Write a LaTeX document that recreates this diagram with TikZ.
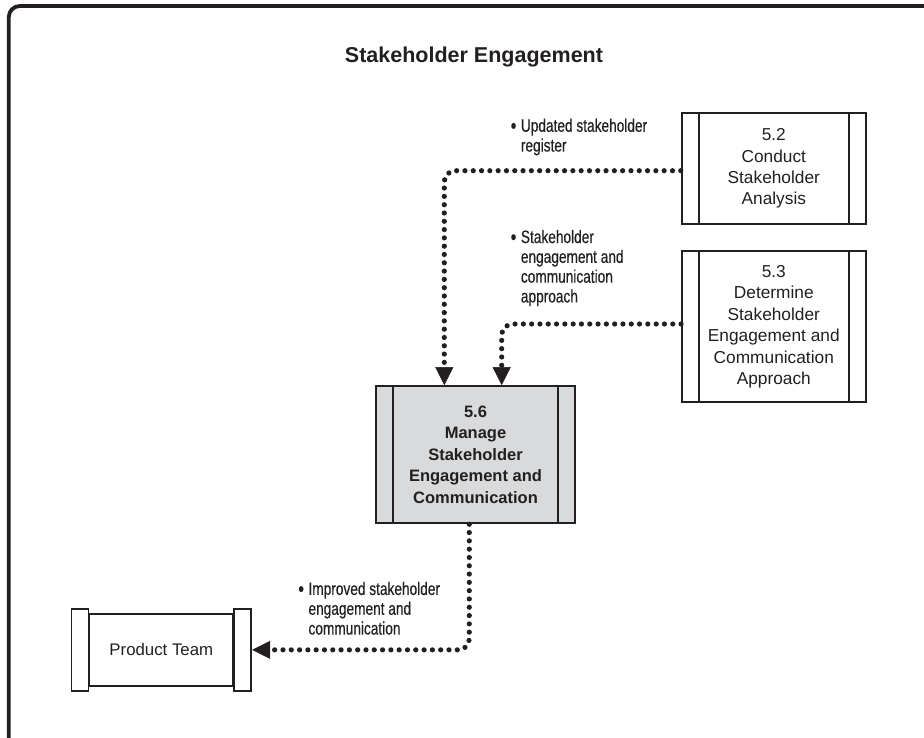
\documentclass[tikz,border=0pt]{standalone}
\usepackage{fontspec}
\setmainfont{Liberation Sans}
\newfontfamily\lblfont[FakeStretch=0.76,FakeBold=0.4]{Liberation Sans}
\usetikzlibrary{arrows.meta}
\definecolor{ink}{HTML}{231F20}
\definecolor{boxgray}{HTML}{D9DADB}
\tikzset{
  procbox/.style={draw=ink, line width=1.8pt, inner sep=0pt, align=center,
    text=ink, font=\fontsize{17.3}{21.4}\selectfont,
    path picture={
      \draw[ink, line width=1.8pt]
        ([xshift=17pt]path picture bounding box.north west) --
        ([xshift=17pt]path picture bounding box.south west);
      \draw[ink, line width=1.8pt]
        ([xshift=-17pt]path picture bounding box.north east) --
        ([xshift=-17pt]path picture bounding box.south east);
    }},
  flow/.style={ink, line width=5.2pt, line cap=round, dash pattern=on 0pt off 8.3pt,
    rounded corners=11pt,
    -{Triangle[width=18pt,length=18pt,line width=0.5pt]}},
  lbl/.style={anchor=west, align=left, inner sep=0pt, text=ink,
    font=\lblfont\fontsize{18}{19.8}\selectfont},
}
\newcommand{\bul}{\makebox[0pt][r]{\raisebox{-1.3pt}{\scalebox{1.2}{\textbullet}}\hspace{4.5pt}}}
\begin{document}
\begin{tikzpicture}[x=1pt,y=-1pt]
\useasboundingbox (0,0) rectangle (924,737);
% frame
\draw[ink, line width=3.8pt, rounded corners=11pt] (8.8,745) -- (8.8,6) -- (935,6);
% title
\node[text=ink, font=\bfseries\fontsize{21.5}{24}\selectfont] (title) at (474,56.7) {Stakeholder Engagement};
% process boxes
\node[procbox, minimum width=184.3pt, minimum height=111.6pt] (b52) at (773.8,168.5)
  {5.2\\Conduct\\Stakeholder\\Analysis};
\node[procbox, minimum width=183.7pt, minimum height=151.3pt] (b53) at (773.8,326.7)
  {5.3\\Determine\\Stakeholder\\Engagement and\\Communication\\Approach};
\node[procbox, fill=boxgray, minimum width=199pt, minimum height=137.3pt,
  font=\bfseries\fontsize{16.5}{21.4}\selectfont] (b56) at (475.5,454.7)
  {5.6\\Manage\\Stakeholder\\Engagement and\\Communication};
% product team
\node[draw=ink, line width=1.8pt, minimum width=144pt, minimum height=71.7pt, inner sep=0pt,
  text=ink, font=\fontsize{16.8}{20}\selectfont] (pt) at (161.3,649.85) {Product Team};
\draw[ink, line width=1.8pt] ([yshift=4pt]pt.north west) rectangle ([xshift=-17pt,yshift=-4pt]pt.south west);
\draw[ink, line width=1.8pt] ([yshift=4pt]pt.north east) rectangle ([xshift=17pt,yshift=-4pt]pt.south east);
\coordinate (ptin) at ([xshift=18pt]pt.east);
% connectors
\coordinate (c1) at ([yshift=-2.2pt]b52.west);
\coordinate (e1) at ([xshift=-31.2pt]b56.north);
\draw[flow] (c1) -- (c1 -| e1) -- (e1);
\coordinate (c2) at ([yshift=2.7pt]b53.west);
\coordinate (e2) at ([xshift=26.2pt]b56.north);
\draw[flow] (c2) -- (c2 -| e2) -- (e2);
\coordinate (c3) at ([xshift=-6.2pt]b56.south);
\draw[flow] (c3) -- (c3 |- ptin) -- (ptin);
% labels
\node[lbl] (l1) at (520.7,137) {\bul Updated stakeholder\\register};
\node[lbl] (l2) at (520.7,268.1) {\bul Stakeholder\\engagement and\\communication\\approach};
\node[lbl] (l3) at (308.3,608.3) {\bul Improved stakeholder\\engagement and\\communication};
\end{tikzpicture}
\end{document}
